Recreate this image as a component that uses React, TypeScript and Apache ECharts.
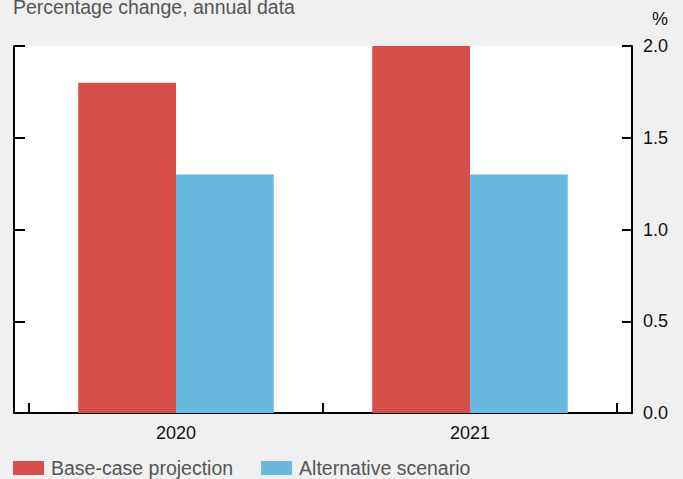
import React, { useEffect, useRef } from "react";
import * as echarts from "echarts";

const years = ["2020", "2021"];
const baseCase = [1.8, 2.0];
const alternative = [1.3, 1.3];
const seriesNames = ["Base-case projection", "Alternative scenario"];
const titleText = "Percentage change, annual data";
const unitText = "%";

const FONT = "'Liberation Sans', Arial, Helvetica, sans-serif";

export default function App() {
  const ref = useRef<HTMLDivElement>(null);
  useEffect(() => {
    document.body.style.margin = "0";
    const chart = echarts.init(ref.current!, null, { renderer: "svg" });
    const axisLine = { show: true, lineStyle: { color: "#000", width: 2 } };
    chart.setOption({
      animation: false,
      backgroundColor: "#f0f0f0",
      textStyle: { fontFamily: FONT },
      title: {
        text: titleText,
        left: 13,
        top: -3,
        padding: 0,
        textStyle: { fontSize: 19.5, fontWeight: "normal", color: "#555", fontFamily: FONT },
      },
      graphic: [
        {
          type: "text",
          x: 660,
          y: 19,
          style: { text: unitText, fontSize: 18, fill: "#111", align: "center", verticalAlign: "middle", fontFamily: FONT },
        },
      ],
      legend: {
        left: 13,
        top: 458,
        padding: 0,
        icon: "rect",
        itemWidth: 31,
        itemHeight: 14,
        itemGap: 28,
        textStyle: { fontSize: 19.5, color: "#555", fontFamily: FONT, padding: [0, 0, 0, 2] },
        data: seriesNames,
      },
      grid: [
        { left: 14, right: 51, top: 46, bottom: 66, show: true, backgroundColor: "#fff", borderWidth: 0 },
        { left: 29, right: 66, top: 46, bottom: 66 },
      ],
      xAxis: [
        {
          gridIndex: 0,
          type: "value",
          min: 0,
          max: 1,
          axisLine,
          axisTick: { show: false },
          axisLabel: { show: false },
          splitLine: { show: false },
        },
        {
          gridIndex: 1,
          type: "category",
          data: years,
          axisLine: { show: false },
          axisTick: { show: true, inside: true, length: 10, lineStyle: { color: "#000", width: 2 } },
          axisLabel: { fontSize: 18, color: "#111", margin: 11, fontFamily: FONT },
          splitLine: { show: false },
        },
      ],
      yAxis: [
        {
          gridIndex: 0,
          type: "value",
          position: "left",
          min: 0,
          max: 2,
          interval: 0.5,
          axisLine,
          axisTick: { show: true, inside: true, length: 11, lineStyle: { color: "#000", width: 2 } },
          axisLabel: { show: false },
          splitLine: { show: false },
        },
        {
          gridIndex: 0,
          type: "value",
          position: "right",
          min: 0,
          max: 2,
          interval: 0.5,
          axisLine,
          axisTick: { show: true, inside: true, length: 10, lineStyle: { color: "#000", width: 2 } },
          axisLabel: {
            fontSize: 18,
            color: "#111",
            margin: 11,
            fontFamily: FONT,
            formatter: (v: number) => v.toFixed(1),
          },
          splitLine: { show: false },
        },
        { gridIndex: 1, type: "value", min: 0, max: 2, show: false },
      ],
      series: [
        {
          name: seriesNames[0],
          type: "bar",
          xAxisIndex: 1,
          yAxisIndex: 2,
          data: baseCase,
          barGap: "0%",
          barCategoryGap: "33.5%",
          itemStyle: { color: "#d64f4a" },
        },
        {
          name: seriesNames[1],
          type: "bar",
          xAxisIndex: 1,
          yAxisIndex: 2,
          data: alternative,
          barGap: "0%",
          barCategoryGap: "33.5%",
          itemStyle: { color: "#69b9df" },
        },
      ],
    });
    return () => chart.dispose();
  }, []);
  return <div ref={ref} style={{ width: 683, height: 479 }} />;
}
